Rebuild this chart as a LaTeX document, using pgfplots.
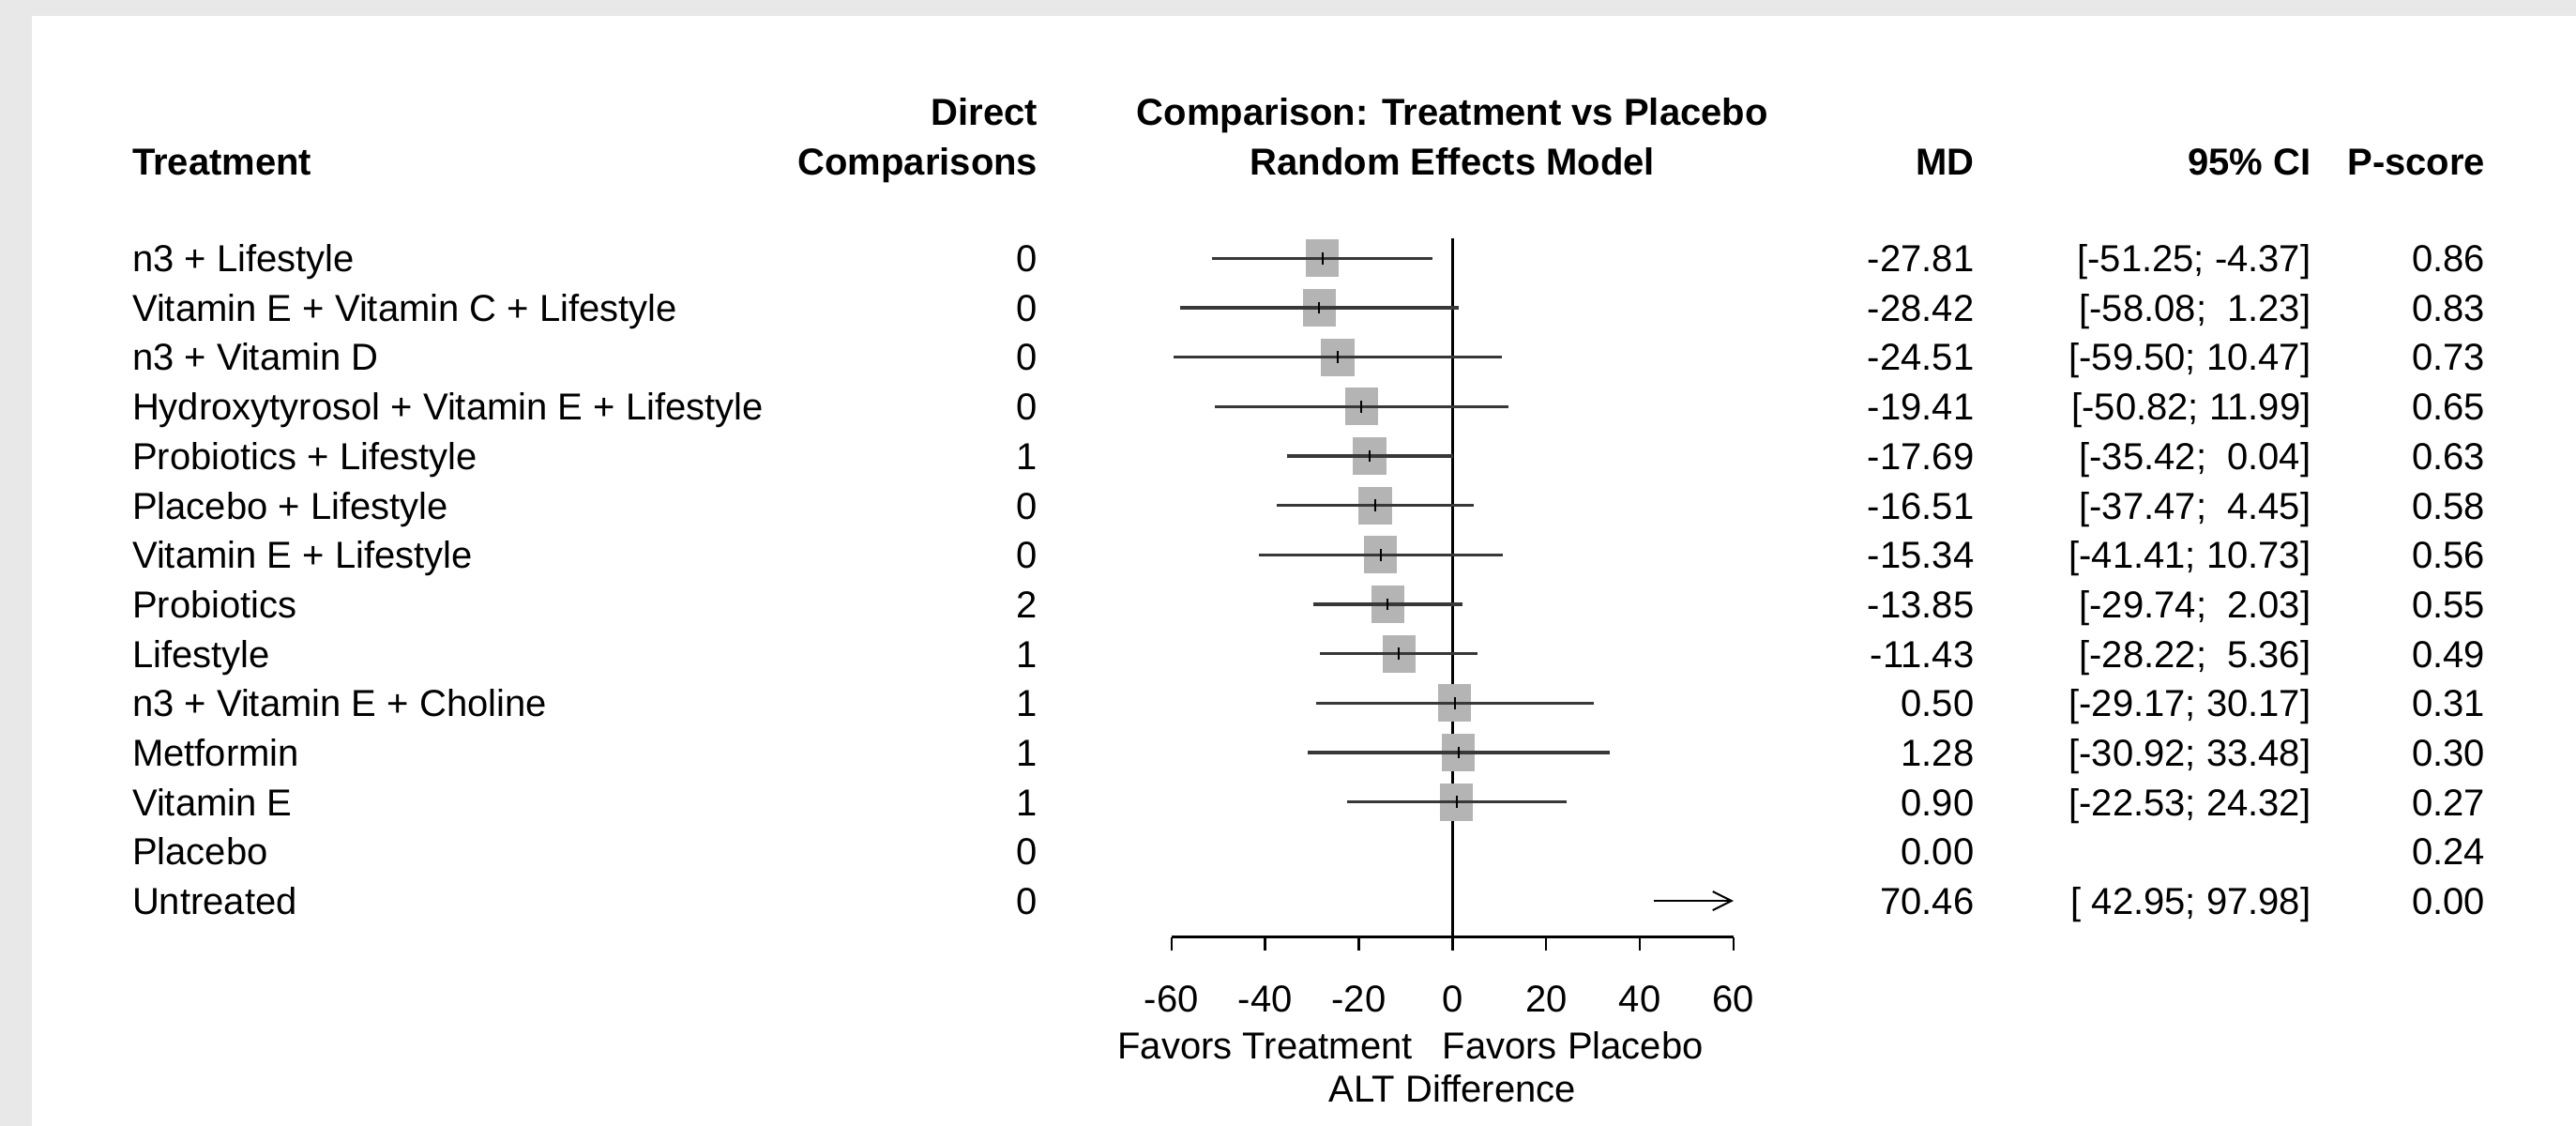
\documentclass[border=0pt]{standalone}
\usepackage{fontspec}
\setmainfont{Liberation Sans}
\usepackage{pgfplots}
\pgfplotsset{compat=1.18}
\usepackage{pgfplotstable}
\usetikzlibrary{arrows.meta}
\definecolor{bggray}{HTML}{E8E8E8}
\definecolor{sqgray}{HTML}{B4B4B4}
\definecolor{cigray}{HTML}{383838}

% squares: MD +/- half square width, one block per row
\pgfplotstableread{
x y
-31.33 -1
-24.29 -1
nan nan
-31.94 -2
-24.90 -2
nan nan
-28.03 -3
-20.99 -3
nan nan
-22.93 -4
-15.89 -4
nan nan
-21.21 -5
-14.17 -5
nan nan
-20.03 -6
-12.99 -6
nan nan
-18.86 -7
-11.82 -7
nan nan
-17.37 -8
-10.33 -8
nan nan
-14.95 -9
-7.91 -9
nan nan
-3.02 -10
4.02 -10
nan nan
-2.24 -11
4.80 -11
nan nan
-2.62 -12
4.42 -12
}\sq

% 95% CI segments (lower, upper), one block per row
\pgfplotstableread{
x y
-51.25 -1
-4.37 -1
nan nan
-58.08 -2
1.23 -2
nan nan
-59.50 -3
10.47 -3
nan nan
-50.82 -4
11.99 -4
nan nan
-35.42 -5
0.04 -5
nan nan
-37.47 -6
4.45 -6
nan nan
-41.41 -7
10.73 -7
nan nan
-29.74 -8
2.03 -8
nan nan
-28.22 -9
5.36 -9
nan nan
-29.17 -10
30.17 -10
nan nan
-30.92 -11
33.48 -11
nan nan
-22.53 -12
24.32 -12
}\ci

% small vertical tick at each MD
\pgfplotstableread{
x y
-27.81 -0.88
-27.81 -1.12
nan nan
-28.42 -1.88
-28.42 -2.12
nan nan
-24.51 -2.88
-24.51 -3.12
nan nan
-19.41 -3.88
-19.41 -4.12
nan nan
-17.69 -4.88
-17.69 -5.12
nan nan
-16.51 -5.88
-16.51 -6.12
nan nan
-15.34 -6.88
-15.34 -7.12
nan nan
-13.85 -7.88
-13.85 -8.12
nan nan
-11.43 -8.88
-11.43 -9.12
nan nan
0.50 -9.88
0.50 -10.12
nan nan
1.28 -10.88
1.28 -11.12
nan nan
0.90 -11.88
0.90 -12.12
}\tk

\tikzset{
  tl/.style={anchor=base west, yshift=-3.6pt, inner sep=0pt},
  tr/.style={anchor=base east, yshift=-3.6pt, inner sep=0pt},
  tc/.style={anchor=base, yshift=-3.6pt, inner sep=0pt},
}
\newcommand{\R}[6]{%
  \node[tl] at (axis cs:-282,-#1) {#2};
  \node[tr] at (axis cs:-88.4,-#1) {#3};
  \node[tr] at (axis cs:111.5,-#1) {#4};
  \node[tr] at (axis cs:183.4,-#1) {#5};
  \node[tr] at (axis cs:220.6,-#1) {#6};
}

\begin{document}
\begin{tikzpicture}[font=\fontsize{10}{12}\selectfont]
\fill[bggray] (0,0) rectangle (686.5pt,300pt);
\fill[white] (8.5pt,0) rectangle (686.5pt,295.8pt);
\begin{axis}[
  at={(312.2pt,50.36pt)}, anchor=south west,
  scale only axis, width=149.8pt, height=186.1pt,
  xmin=-60, xmax=60, ymin=-14.73, ymax=-0.6,
  clip=false, unbounded coords=jump,
  axis x line*=bottom, axis y line=none,
  xtick={-60,-40,-20,0,20,40,60},
  xticklabels={-60,-40,-20,0,20,40,60},
  tick align=outside, major tick length=3.5pt,
  every tick/.style={black, line width=0.6pt},
  axis line style={black, line width=0.6pt},
  xticklabel style={yshift=-6pt, font=\fontsize{10}{12}\selectfont},
]
\addplot[black, line width=0.6pt, mark=none] coordinates {(0,-0.6) (0,-14.73)};
% squares
\addplot[sqgray, line width=10pt, line cap=butt, mark=none] table[x=x, y=y] {\sq};
% confidence intervals
\addplot[cigray, line width=0.8pt, mark=none] table[x=x, y=y] {\ci};
% estimate ticks
\addplot[black, line width=0.5pt, mark=none] table[x=x, y=y] {\tk};
% Untreated: CI 42.95 to 97.98, cut at 60
\addplot[black, line width=0.5pt, mark=none, -{Straight Barb[length=5pt,width=5pt]}]
  coordinates {(42.95,-14) (60,-14)};

% headers
\node[tl] at (axis cs:-282,0.96) {\textbf{Treatment}};
\node[tr] at (axis cs:-88.4,1.96) {\textbf{Direct}};
\node[tr] at (axis cs:-88.4,0.96) {\textbf{Comparisons}};
\node[tc] at (axis cs:0,1.96) {\textbf{Comparison: Treatment vs Placebo}};
\node[tc] at (axis cs:0,0.96) {\textbf{Random Effects Model}};
\node[tr] at (axis cs:111.5,0.96) {\textbf{MD}};
\node[tr] at (axis cs:183.4,0.96) {\textbf{95\% CI}};
\node[tr] at (axis cs:220.6,0.96) {\textbf{P-score}};

\R{1}{n3 + Lifestyle}{0}{-27.81}{[-51.25; -4.37]}{0.86}
\R{2}{Vitamin E + Vitamin C + Lifestyle}{0}{-28.42}{[-58.08;\ \ 1.23]}{0.83}
\R{3}{n3 + Vitamin D}{0}{-24.51}{[-59.50; 10.47]}{0.73}
\R{4}{Hydroxytyrosol + Vitamin E + Lifestyle}{0}{-19.41}{[-50.82; 11.99]}{0.65}
\R{5}{Probiotics + Lifestyle}{1}{-17.69}{[-35.42;\ \ 0.04]}{0.63}
\R{6}{Placebo + Lifestyle}{0}{-16.51}{[-37.47;\ \ 4.45]}{0.58}
\R{7}{Vitamin E + Lifestyle}{0}{-15.34}{[-41.41; 10.73]}{0.56}
\R{8}{Probiotics}{2}{-13.85}{[-29.74;\ \ 2.03]}{0.55}
\R{9}{Lifestyle}{1}{-11.43}{[-28.22;\ \ 5.36]}{0.49}
\R{10}{n3 + Vitamin E + Choline}{1}{0.50}{[-29.17; 30.17]}{0.31}
\R{11}{Metformin}{1}{1.28}{[-30.92; 33.48]}{0.30}
\R{12}{Vitamin E}{1}{0.90}{[-22.53; 24.32]}{0.27}
\R{13}{Placebo}{0}{0.00}{}{0.24}
\R{14}{Untreated}{0}{70.46}{[ 42.95; 97.98]}{0.00}

\node[tr] at (axis cs:-8.4,-16.92) {Favors Treatment};
\node[tl] at (axis cs:-2.3,-16.92) {Favors Placebo};
\node[tc] at (axis cs:0,-17.79) {ALT Difference};
\end{axis}
\pgfresetboundingbox
\useasboundingbox (0,0) rectangle (686.5pt,300pt);
\end{tikzpicture}
\end{document}
